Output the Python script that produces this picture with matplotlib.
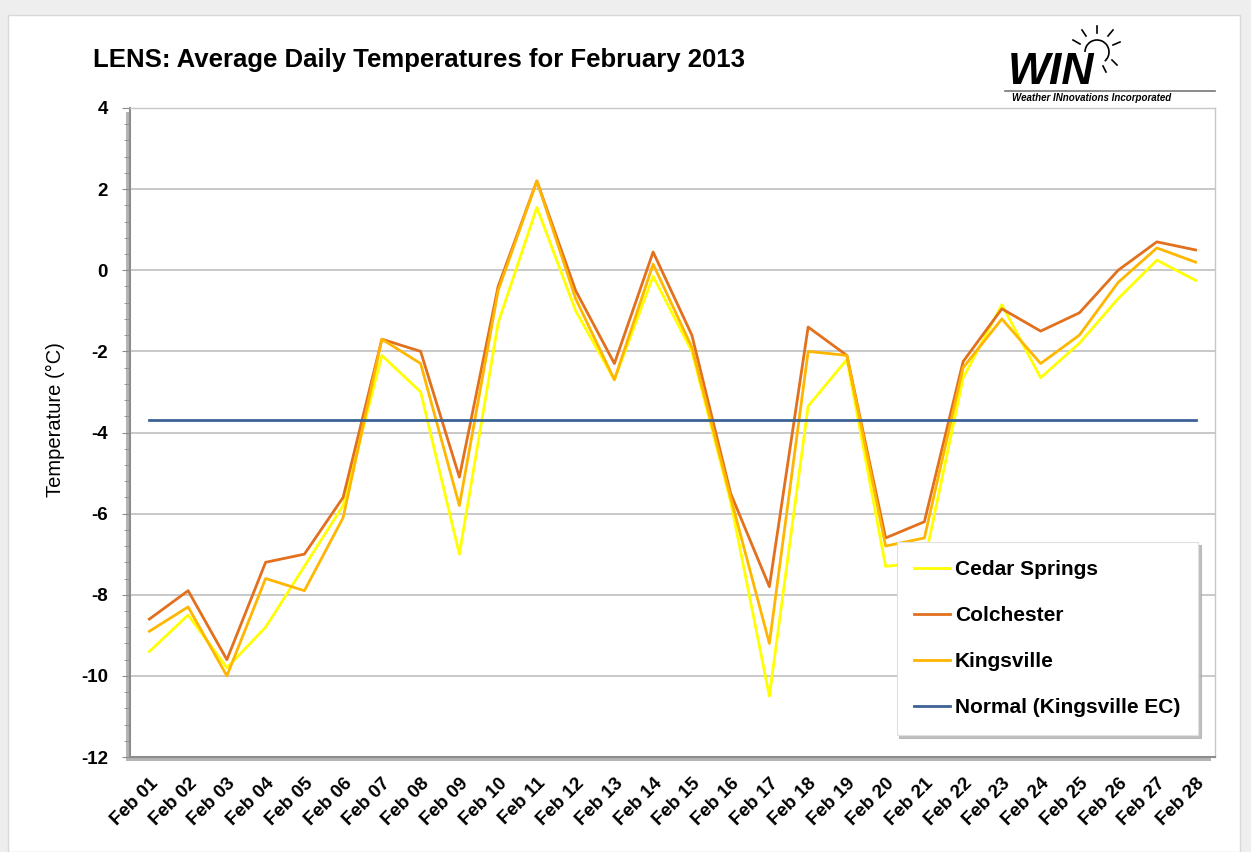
import matplotlib
matplotlib.use("Agg")
import matplotlib.pyplot as plt
from matplotlib.patches import Rectangle, Arc
from matplotlib.lines import Line2D

# data
days = ["Feb %02d" % d for d in range(1, 29)]
cedar = [-9.4, -8.5, -9.8, -8.8, -7.3, -5.8, -2.1, -3.0, -7.0, -1.3, 1.55, -1.0, -2.7, -0.15,
         -2.0, -5.7, -10.5, -3.35, -2.2, -7.3, -7.2, -2.65, -0.85, -2.65, -1.8, -0.7, 0.25, -0.25]
colchester = [-8.6, -7.9, -9.6, -7.2, -7.0, -5.6, -1.7, -2.0, -5.1, -0.4, 2.2, -0.5, -2.3, 0.45,
              -1.6, -5.5, -7.8, -1.4, -2.1, -6.6, -6.2, -2.25, -0.95, -1.5, -1.05, 0.0, 0.7, 0.5]
kingsville = [-8.9, -8.3, -10.0, -7.6, -7.9, -6.1, -1.7, -2.3, -5.8, -0.5, 2.2, -0.7, -2.7, 0.15,
              -1.9, -5.6, -9.2, -2.0, -2.1, -6.8, -6.6, -2.4, -1.2, -2.3, -1.6, -0.3, 0.55, 0.2]
normal_temp = -3.7
y_ticks = [4, 2, 0, -2, -4, -6, -8, -10, -12]

plt.rcParams['font.family'] = ['Liberation Sans', 'DejaVu Sans']

W, H = 1251, 852
fig = plt.figure(figsize=(W / 100, H / 100), dpi=100)
fig.patch.set_facecolor("#eeeeee")

def fx(px):
    return px / W

def fy(py):
    return 1 - py / H

# white chart area inside the grey frame
fig.patches.append(Rectangle((fx(8), 0), fx(1240 - 8), fy(15), transform=fig.transFigure,
                             facecolor="white", edgecolor="#d8d8d8", lw=1, zorder=-3))

L, R, T, B = 130, 1215, 108, 757
# plot area shadow
fig.patches.append(Rectangle((fx(L - 4), fy(B + 4)), fx(R - L), fy(T) - fy(B), transform=fig.transFigure,
                             facecolor="#b4b4b4", edgecolor="none", zorder=-2))
ax = fig.add_axes([fx(L), fy(B), fx(R - L), fy(T) - fy(B)])
ax.set_facecolor("white")

x = list(range(len(days)))
ax.plot(x, cedar, color="#ffff00", lw=2.0, label="Cedar Springs", zorder=3)
ax.plot(x, colchester, color="#e2701d", lw=2.0, label="Colchester", zorder=4)
ax.plot(x, kingsville, color="#ffb600", lw=2.0, label="Kingsville", zorder=5)
ax.plot(x, [normal_temp] * len(x), color="#3b6394", lw=2.0, label="Normal (Kingsville EC)", zorder=6)

ax.set_xlim(-0.5, len(days) - 0.5)
ax.set_ylim(-12, 4)
ax.set_yticks(y_ticks)
ax.set_yticks([v / 10 for v in range(-120, 41, 4)], minor=True)
ax.yaxis.grid(True, color="#c4c4c4", lw=1.3, zorder=0)
ax.set_axisbelow(True)
ax.set_yticklabels([str(v) for v in y_ticks], fontsize=13.5, fontweight="bold")
ax.tick_params(axis="y", which="major", length=6, color="#8c8c8c", pad=10)
ax.tick_params(axis="y", which="minor", length=4, color="#8c8c8c")

ax.set_xticks(x)
ax.set_xticklabels(days, rotation=45, ha="right", rotation_mode="anchor",
                   fontsize=13.5, fontweight="bold")
ax.tick_params(axis="x", length=0, pad=13)

for side in ["top", "right"]:
    ax.spines[side].set_color("#c8c8c8")
    ax.spines[side].set_linewidth(1)
for side in ["left", "bottom"]:
    ax.spines[side].set_color("#8c8c8c")
    ax.spines[side].set_linewidth(1.5)

ax.set_ylabel("Temperature (\u00b0C)", fontsize=14.5)
ax.yaxis.set_label_coords(-0.06, 0.52)

# legend with shadow
leg = ax.legend(loc="lower right", bbox_to_anchor=(fx(1198 - L) / fx(R - L), (B - 735) / (B - T)),
                prop={"weight": "bold", "size": 15}, frameon=True, fancybox=False,
                shadow={"color": "#b0b0b0", "alpha": 0.8}, borderpad=0.85, labelspacing=1.3,
                handlelength=1.7, handletextpad=0.25, borderaxespad=0)
leg.get_frame().set_edgecolor("#e0e0e0")
leg.get_frame().set_linewidth(0.8)
leg.set_zorder(10)

fig.text(fx(93), fy(60), "LENS: Average Daily Temperatures for February 2013",
         fontsize=18.5, fontweight="bold", va="center", ha="left")

# WIN logo
fig.text(fx(1008), fy(72), "WIN", fontsize=32, fontweight="bold", style="italic",
         va="center", ha="left", color="black")
fig.text(fx(1012), fy(98), "Weather INnovations Incorporated", fontsize=7, fontweight="bold",
         style="italic", va="center", ha="left")
fig.lines.append(Line2D([fx(1005), fx(1215)], [fy(91), fy(91)], transform=fig.transFigure,
                        color="#777777", lw=1.2))
sun = Arc((fx(1097), fy(52)), fx(24), fy(0) - fy(24), theta1=-60, theta2=180,
          transform=fig.transFigure, color="black", lw=1.2)
fig.patches.append(sun)
rays = [((1080, 44), (1073, 40)), ((1086, 36), (1082, 30)), ((1097, 33), (1097, 26)),
        ((1108, 36), (1113, 30)), ((1113, 45), (1120, 42)), ((1112, 60), (1117, 65)),
        ((1103, 66), (1106, 72))]
for (a, b) in rays:
    fig.lines.append(Line2D([fx(a[0]), fx(b[0])], [fy(a[1]), fy(b[1])],
                            transform=fig.transFigure, color="black", lw=1.2))

fig.savefig("out.png", dpi=100, facecolor=fig.get_facecolor())
